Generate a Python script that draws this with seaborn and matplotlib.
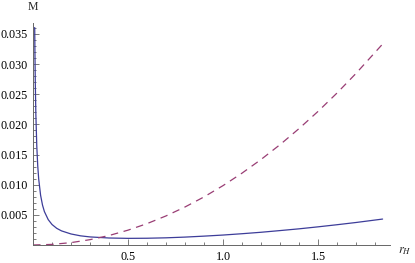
import matplotlib
matplotlib.use("Agg")
import matplotlib.pyplot as plt
from matplotlib.ticker import MultipleLocator
import seaborn as sns
import pandas as pd

# values
r_solid = [0.009, 0.01, 0.012, 0.015, 0.02, 0.025, 0.03, 0.04, 0.05, 0.06, 0.08,
           0.1, 0.125, 0.15, 0.2, 0.25, 0.3, 0.4, 0.5, 0.6, 0.7, 0.8, 0.9,
           1.0, 1.1, 1.2, 1.3, 1.4, 1.5, 1.6, 1.7, 1.84]
m_solid = [0.03605, 0.03246, 0.02708, 0.02169, 0.01631, 0.01308, 0.01093, 0.00824,
           0.00662, 0.00554, 0.00421, 0.0034, 0.00276, 0.00234, 0.00183, 0.00152,
           0.00134, 0.00116, 0.0011, 0.00112, 0.00119, 0.00131, 0.00147, 0.00165,
           0.00187, 0.00211, 0.00239, 0.00268, 0.00301, 0.00336, 0.00373, 0.0043]

r_dashed = [0.0, 0.1, 0.2, 0.3, 0.4, 0.5, 0.6, 0.7, 0.8, 0.9, 1.0,
            1.1, 1.2, 1.3, 1.4, 1.5, 1.6, 1.7, 1.84]
m_dashed = [0.0, 0.0000984, 0.000394, 0.000886, 0.00157, 0.00246, 0.00354, 0.00482,
            0.0063, 0.00797, 0.00984, 0.01191, 0.01417, 0.01663, 0.01929, 0.02214,
            0.02519, 0.02844, 0.03331]

xticks = [0.5, 1.0, 1.5]
xtick_labels = ["0.5", "1.0", "1.5"]
yticks = [0.005, 0.010, 0.015, 0.020, 0.025, 0.030, 0.035]
ytick_labels = ["0.005", "0.010", "0.015", "0.020", "0.025", "0.030", "0.035"]

sns.set_style("ticks")
plt.rcParams['font.family'] = ['Liberation Serif', 'DejaVu Serif']
plt.rcParams['mathtext.fontset'] = 'stix'

df_solid = pd.DataFrame({'r': r_solid, 'M': m_solid})
df_dashed = pd.DataFrame({'r': r_dashed, 'M': m_dashed})

fig = plt.figure(figsize=(4.15, 2.63), dpi=100)
ax = fig.add_axes([33 / 415, 18 / 263, 357 / 415, 222 / 263])

sns.lineplot(data=df_solid, x='r', y='M', ax=ax, color='#3d3d99', lw=0.9, sort=False)
sns.lineplot(data=df_dashed, x='r', y='M', ax=ax, color='#993d74', lw=0.9, sort=False,
             dashes=False, linestyle=(0, (6, 4.5)))

ax.set_xlim(0, 1.879)
ax.set_ylim(0, 0.0368)
ax.set_xticks(xticks, xtick_labels)
ax.set_yticks(yticks, ytick_labels)
ax.xaxis.set_minor_locator(MultipleLocator(0.1))
ax.yaxis.set_minor_locator(MultipleLocator(0.001))
ax.tick_params(which='both', direction='in', color='#666666', labelsize=8.7,
               labelcolor='black', width=0.6)
ax.tick_params(which='major', length=4, pad=4)
ax.tick_params(which='minor', length=2)
for s in ['top', 'right']:
    ax.spines[s].set_visible(False)
for s in ['left', 'bottom']:
    ax.spines[s].set_color('#666666')
    ax.spines[s].set_linewidth(0.7)
ax.set_xlabel('')
ax.set_ylabel('')

fig.text(33 / 415, 1 - 7 / 263, 'M', ha='center', va='center', fontsize=8.5)
fig.text(398 / 415, 1 - 251 / 263, '$r_H$', ha='left', va='center', fontsize=9)

fig.savefig('out.png', dpi=100)
